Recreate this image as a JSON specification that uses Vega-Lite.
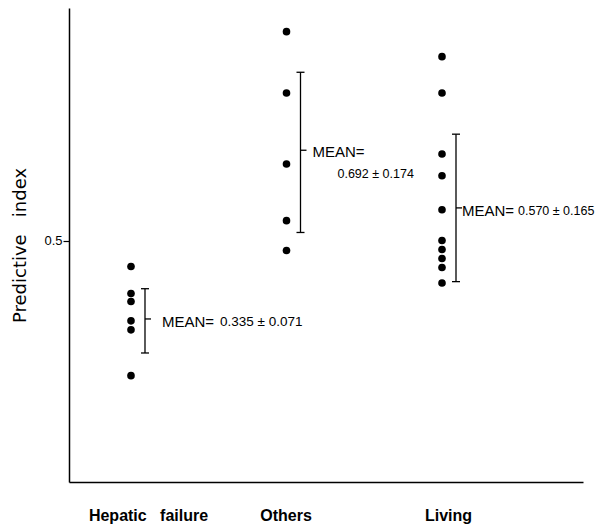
{
  "$schema": "https://vega.github.io/schema/vega-lite/v6.json",
  "width": 514,
  "height": 474,
  "autosize": "none",
  "padding": {"left": 69, "top": 8, "right": 29, "bottom": 43},
  "background": "white",
  "config": {"view": {"stroke": null}, "font": "Liberation Sans"},
  "datasets": {
    "points": [
      {"group": "Hepatic failure", "value": 0.446},
      {"group": "Hepatic failure", "value": 0.389},
      {"group": "Hepatic failure", "value": 0.372},
      {"group": "Hepatic failure", "value": 0.331},
      {"group": "Hepatic failure", "value": 0.312},
      {"group": "Hepatic failure", "value": 0.215},
      {"group": "Others", "value": 0.943},
      {"group": "Others", "value": 0.813},
      {"group": "Others", "value": 0.663},
      {"group": "Others", "value": 0.543},
      {"group": "Others", "value": 0.48},
      {"group": "Living", "value": 0.89},
      {"group": "Living", "value": 0.813},
      {"group": "Living", "value": 0.684},
      {"group": "Living", "value": 0.638},
      {"group": "Living", "value": 0.566},
      {"group": "Living", "value": 0.501},
      {"group": "Living", "value": 0.482},
      {"group": "Living", "value": 0.463},
      {"group": "Living", "value": 0.444},
      {"group": "Living", "value": 0.411}
    ],
    "stats": [
      {"group": "Hepatic failure", "mean": 0.335, "lo": 0.263, "hi": 0.399, "label": "0.335 ± 0.071"},
      {"group": "Others", "mean": 0.692, "lo": 0.518, "hi": 0.857, "label": "0.692 ± 0.174"},
      {"group": "Living", "mean": 0.57, "lo": 0.414, "hi": 0.726, "label": "0.570 ± 0.165"}
    ]
  },
  "encoding": {
    "x": {
      "field": "group",
      "type": "nominal",
      "sort": ["Hepatic failure", "Others", "Living"],
      "scale": {"type": "point", "padding": 0.6527, "align": 0.3054},
      "axis": {
        "title": null,
        "labelAngle": 0,
        "domainColor": "black",
        "domainWidth": 1.5,
        "ticks": false,
        "tickSize": 0,
        "labelFont": "Liberation Sans",
        "labelFontWeight": "bold",
        "labelFontSize": 16,
        "labelColor": "black",
        "labelBaseline": "alphabetic",
        "labelPadding": 38,
        "labelExpr": "datum.value == 'Hepatic failure' ? 'Hepatic\u00a0\u00a0\u00a0failure' : datum.value",
        "labelOffset": {
          "condition": [
            {"test": "datum.value == 'Hepatic failure'", "value": 17},
            {"test": "datum.value == 'Living'", "value": 6}
          ],
          "value": -1
        }
      }
    }
  },
  "layer": [
    {
      "data": {"name": "points"},
      "mark": {"type": "circle", "size": 58, "color": "black", "opacity": 1},
      "encoding": {
        "y": {
          "field": "value",
          "type": "quantitative",
          "scale": {"domain": [-0.01, 0.993], "nice": false, "zero": false},
          "axis": {
            "values": [0.5],
            "format": ".1f",
            "title": "Predictive\u00a0\u00a0\u00a0index",
            "titleFont": "DejaVu Sans",
            "titleFontSize": 18,
            "titleFontWeight": "normal",
            "titleColor": "black",
            "titlePadding": 14,
            "domainColor": "black",
            "domainWidth": 1.5,
            "tickColor": "black",
            "tickSize": 6,
            "tickWidth": 1.2,
            "labelFont": "Liberation Sans",
            "labelFontSize": 13,
            "labelColor": "black",
            "labelPadding": 1,
            "grid": false
          }
        }
      }
    },
    {
      "data": {"name": "stats"},
      "mark": {"type": "rule", "color": "black", "strokeWidth": 1.3, "xOffset": 14},
      "encoding": {
        "y": {"field": "lo", "type": "quantitative"},
        "y2": {"field": "hi"}
      }
    },
    {
      "data": {"name": "stats"},
      "mark": {"type": "tick", "orient": "horizontal", "color": "black", "opacity": 1, "size": 8, "thickness": 1.3, "xOffset": 14},
      "encoding": {"y": {"field": "lo", "type": "quantitative"}}
    },
    {
      "data": {"name": "stats"},
      "mark": {"type": "tick", "orient": "horizontal", "color": "black", "opacity": 1, "size": 8, "thickness": 1.3, "xOffset": 14},
      "encoding": {"y": {"field": "hi", "type": "quantitative"}}
    },
    {
      "data": {"name": "stats"},
      "mark": {"type": "tick", "orient": "horizontal", "color": "black", "opacity": 1, "size": 6, "thickness": 1.3, "xOffset": 17},
      "encoding": {"y": {"field": "mean", "type": "quantitative"}}
    },
    {
      "data": {"name": "stats"},
      "transform": [{"filter": "datum.group == 'Hepatic failure'"}],
      "layer": [
        {
          "mark": {"type": "text", "text": "MEAN=", "align": "left", "baseline": "middle", "font": "Liberation Sans", "fontSize": 15, "color": "black", "dx": 31, "dy": 3},
          "encoding": {"y": {"field": "mean", "type": "quantitative"}}
        },
        {
          "mark": {"type": "text", "align": "left", "baseline": "middle", "font": "Liberation Sans", "fontSize": 13.5, "color": "black", "dx": 89, "dy": 3},
          "encoding": {"y": {"field": "mean", "type": "quantitative"}, "text": {"field": "label"}}
        }
      ]
    },
    {
      "data": {"name": "stats"},
      "transform": [{"filter": "datum.group == 'Others'"}],
      "layer": [
        {
          "mark": {"type": "text", "text": "MEAN=", "align": "left", "baseline": "middle", "font": "Liberation Sans", "fontSize": 15, "color": "black", "dx": 26, "dy": 2},
          "encoding": {"y": {"field": "mean", "type": "quantitative"}}
        },
        {
          "mark": {"type": "text", "align": "left", "baseline": "middle", "font": "Liberation Sans", "fontSize": 12.5, "color": "black", "dx": 51, "dy": 24},
          "encoding": {"y": {"field": "mean", "type": "quantitative"}, "text": {"field": "label"}}
        }
      ]
    },
    {
      "data": {"name": "stats"},
      "transform": [{"filter": "datum.group == 'Living'"}],
      "layer": [
        {
          "mark": {"type": "text", "text": "MEAN=", "align": "left", "baseline": "middle", "font": "Liberation Sans", "fontSize": 15, "color": "black", "dx": 20, "dy": 3},
          "encoding": {"y": {"field": "mean", "type": "quantitative"}}
        },
        {
          "mark": {"type": "text", "align": "left", "baseline": "middle", "font": "Liberation Sans", "fontSize": 12.5, "color": "black", "dx": 76, "dy": 3},
          "encoding": {"y": {"field": "mean", "type": "quantitative"}, "text": {"field": "label"}}
        }
      ]
    }
  ]
}
